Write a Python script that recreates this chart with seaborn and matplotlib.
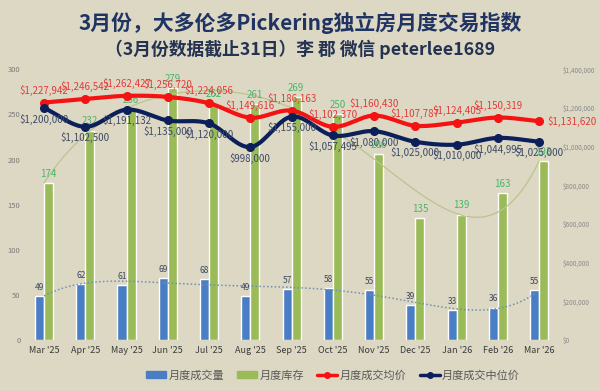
import matplotlib

matplotlib.use("Agg")

import matplotlib.pyplot as plt  # noqa: E402
import numpy as np  # noqa: E402
import pandas as pd  # noqa: E402
import seaborn as sns  # noqa: E402
from matplotlib.lines import Line2D  # noqa: E402
from matplotlib.patches import Patch  # noqa: E402
from matplotlib.ticker import FuncFormatter, MultipleLocator  # noqa: E402

MONTHS = ["Mar '25", "Apr '25", "May '25", "Jun '25", "Jul '25", "Aug '25",
          "Sep '25", "Oct '25", "Nov '25", "Dec '25", "Jan '26", "Feb '26",
          "Mar '26"]
VOLUME = [49, 62, 61, 69, 68, 49, 57, 58, 55, 39, 33, 36, 55]
INVENTORY = [174, 232, 256, 279, 262, 261, 269, 250, 206, 135, 139, 163, 198]
AVG_PRICE = [1227942, 1246542, 1262427, 1256720, 1224056, 1149616, 1186163,
             1102370, 1160430, 1107787, 1124405, 1150319, 1131620]
MEDIAN_PRICE = [1200000, 1102500, 1191132, 1135000, 1120000, 998000, 1155000,
                1057495, 1080000, 1025000, 1010000, 1044995, 1025000]

S_VOL = "月度成交量"
S_INV = "月度库存"
S_AVG = "月度成交均价"
S_MED = "月度成交中位价"

BG = "#ddd8c4"
BLUE = "#4a7ec4"
GREEN = "#9bbb59"
RED = "#f41212"
NAVY = "#0b1f5a"


def smooth(y, n=20):
    # catmull-rom curve through the points, like excel's smoothed lines
    y = np.asarray(y, dtype=float)
    p = np.concatenate([[2 * y[0] - y[1]], y, [2 * y[-1] - y[-2]]])
    xs, ys = [], []
    for i in range(1, len(p) - 2):
        t = np.linspace(0, 1, n, endpoint=False)
        p0, p1, p2, p3 = p[i - 1], p[i], p[i + 1], p[i + 2]
        seg = 0.5 * (2 * p1 + (-p0 + p2) * t + (2 * p0 - 5 * p1 + 4 * p2 - p3) * t**2
                     + (-p0 + 3 * p1 - 3 * p2 + p3) * t**3)
        xs.append(i - 1 + t)
        ys.append(seg)
    xs.append([len(y) - 1])
    ys.append([y[-1]])
    return np.concatenate(xs), np.concatenate(ys)


def trend(x, y, xf, deg=5):
    # polynomial trendline, ends weighted so it starts/ends near the data
    w = np.ones(len(x))
    w[[0, -1]] = 4
    return np.polyval(np.polyfit(x, y, deg, w=w), xf)


sns.set_theme(style="white")
plt.rcParams["font.family"] = ["Noto Sans CJK SC", "DejaVu Sans"]

fig = plt.figure(figsize=(6.0, 3.91), dpi=100, facecolor=BG)
ax = fig.add_axes([0.039, 0.13, 0.894, 0.693])
ax.set_facecolor(BG)

df = pd.DataFrame({
    "month": MONTHS * 2,
    "value": VOLUME + INVENTORY,
    "series": [S_VOL] * len(MONTHS) + [S_INV] * len(MONTHS),
})
sns.barplot(data=df, x="month", y="value", hue="series",
            palette=[BLUE, GREEN], width=0.44, gap=0, saturation=1,
            legend=False, ax=ax)

x = np.arange(len(MONTHS))

xf = np.linspace(0, len(MONTHS) - 1, 200)
ax.plot(xf, trend(x, INVENTORY, xf), color="#b9c48e", lw=0.9, zorder=1)
ax.plot(xf, trend(x, VOLUME, xf), color="#6f8fb5", lw=1.1,
        ls=(0, (1, 1.5)), zorder=3)

for xi, v in zip(x, VOLUME):
    ax.annotate(f"{v}", (xi - 0.11, v), textcoords="offset points",
                xytext=(0, 3), ha="center", va="bottom", fontsize=6,
                color="#3c4660")
for xi, v in zip(x, INVENTORY):
    ax.annotate(f"{v}", (xi + 0.11, v), textcoords="offset points",
                xytext=(0, 3), ha="center", va="bottom", fontsize=7,
                color="#4cb46a")

ax.set_xlim(-0.5, len(MONTHS) - 0.5)
ax.set_ylim(0, 300)
ax.yaxis.set_major_locator(MultipleLocator(50))
ax.set_xlabel("")
ax.set_ylabel("")
ax.tick_params(axis="y", labelsize=5.5, labelcolor="#7a7a7a", length=0, pad=2)
ax.tick_params(axis="x", labelsize=6.5, labelcolor="#3a3a3a", length=0, pad=4)
for s in ax.spines.values():
    s.set_visible(False)

ax2 = ax.twinx()
ax2.set_ylim(0, 1400000)
ax2.yaxis.set_major_locator(MultipleLocator(200000))
ax2.yaxis.set_major_formatter(FuncFormatter(lambda v, _: f"${v:,.0f}"))
ax2.tick_params(axis="y", labelsize=4.6, labelcolor="#8a8a8a", length=0, pad=2)
for s in ax2.spines.values():
    s.set_visible(False)

for vals, color in ((AVG_PRICE, RED), (MEDIAN_PRICE, NAVY)):
    sx, sy = smooth(vals)
    ax2.plot(sx, sy, color=color, lw=3, solid_capstyle="round", zorder=4)
    ax2.plot(x, vals, "o", color=color, ms=5.5, zorder=5)

for i, v in enumerate(AVG_PRICE):
    if i == len(AVG_PRICE) - 1:
        off, ha = (6, -4), "left"
    else:
        off, ha = (0, 5), "center"
    ax2.annotate(f"${v:,}", (i, v), textcoords="offset points", xytext=off,
                 ha=ha, va="bottom", fontsize=7, color="#e23a3a", zorder=6)
for i, v in enumerate(MEDIAN_PRICE):
    ax2.annotate(f"${v:,}", (i, v), textcoords="offset points", xytext=(0, -4),
                 ha="center", va="top", fontsize=7, color="#3d4a66", zorder=6)

fig.text(0.5, 0.94, "3月份，大多伦多Pickering独立房月度交易指数",
         ha="center", va="center", fontsize=15, fontweight="bold",
         color="#1f3462")
fig.text(0.5, 0.873, "（3月份数据截止31日）李 郡 微信 peterlee1689",
         ha="center", va="center", fontsize=12.8, fontweight="bold",
         color="#243352")

handles = [
    Patch(color=BLUE, label=S_VOL),
    Patch(color=GREEN, label=S_INV),
    Line2D([], [], color=RED, lw=2.5, marker="o", ms=4, label=S_AVG),
    Line2D([], [], color=NAVY, lw=2.5, marker="o", ms=4, label=S_MED),
]
fig.legend(handles=handles, loc="center", bbox_to_anchor=(0.555, 0.04),
           ncol=4, frameon=False, fontsize=8, labelcolor="#595959",
           handlelength=1.8, handleheight=0.6, columnspacing=1.2,
           handletextpad=0.2)

fig.savefig("out.png", dpi=100, facecolor=BG)
